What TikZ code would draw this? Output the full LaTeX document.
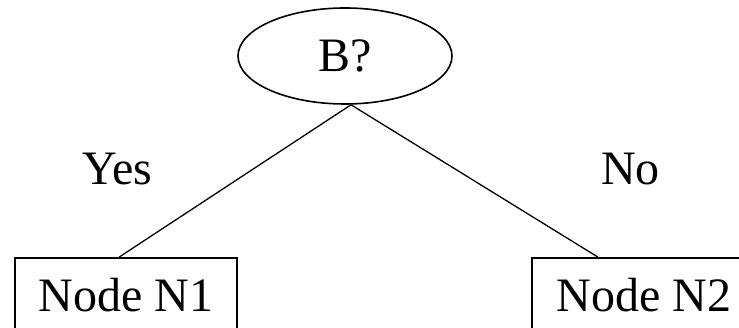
\documentclass[tikz,border=0pt]{standalone}
\usepackage{fontspec}
\setmainfont{Liberation Serif}
\usetikzlibrary{shapes.geometric,calc}

\begin{document}
\begin{tikzpicture}[
    x=1pt, y=1pt,
    every node/.style={font=\fontsize{48}{56}\selectfont},
    decision/.style={draw, ellipse, line width=1.6pt, inner sep=0pt,
        minimum width=214pt, minimum height=96pt},
    leaf/.style={draw, rectangle, line width=1.6pt, inner sep=0pt,
        minimum height=74pt, anchor=north},
    branch/.style={line width=1.3pt}
]

% Parameters
\def\picW{739}
\def\picH{328}
\def\leafTop{71}

\useasboundingbox (0,0) rectangle (\picW,\picH);
\clip (0,0) rectangle (\picW,\picH);

% === Question ===
\node[decision] (q) at (345,272) {B?};

% === Leaves (cut off at the page edge) ===
\node[leaf, minimum width=222pt] (n1) at (126,\leafTop) {Node N1};
\node[leaf, minimum width=224pt] (n2) at (644,\leafTop) {Node N2};

% === Branches ===
\draw[branch] ([xshift=6pt]q.south) -- ($(n1.north west)!0.47!(n1.north east)$);
\draw[branch] ([xshift=6pt]q.south) -- ($(n2.north west)!0.295!(n2.north east)$);

% Branch labels
\node (yes) at (117.5,159) {Yes};
\node (no) at (630.5,159) {No};

\end{tikzpicture}
\end{document}
